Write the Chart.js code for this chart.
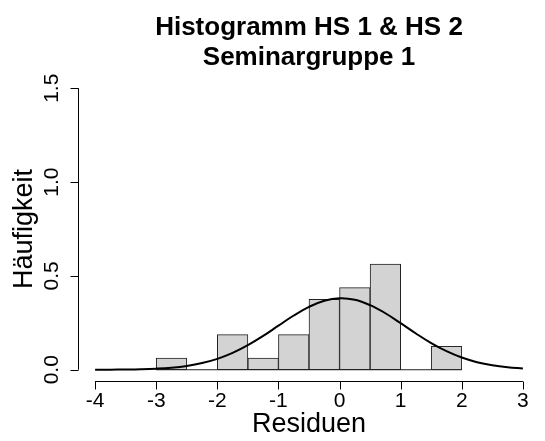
<!DOCTYPE html>
<html>
<head>
<meta charset="utf-8">
<title>Histogramm HS 1 & HS 2</title>
<script src="https://cdn.jsdelivr.net/npm/chart.js@4"></script>
<style>
  html, body { margin: 0; padding: 0; background: #fff; }
  canvas { display: block; }
</style>
</head>
<body>
<canvas id="histChart" width="545" height="441"></canvas>
<script>
// ---- data ----
const breaks = [-3, -2.5, -2, -1.5, -1, -0.5, 0, 0.5, 1, 1.5, 2];
const density = [0.0625, 0, 0.1875, 0.0625, 0.1875, 0.375, 0.4375, 0.5625, 0, 0.125];

// normal density curve, read at steps of 0.25
const curveX = [-4, -3.75, -3.5, -3.25, -3, -2.75, -2.5, -2.25, -2, -1.75, -1.5, -1.25, -1, -0.75,
  -0.5, -0.25, 0, 0.25, 0.5, 0.75, 1, 1.25, 1.5, 1.75, 2, 2.25, 2.5, 2.75, 3];
const curveY = [0.0002, 0.0006, 0.0013, 0.0028, 0.0058, 0.0112, 0.0205, 0.0356, 0.0581, 0.0898,
  0.131, 0.180, 0.235, 0.289, 0.335, 0.368, 0.381, 0.373, 0.344, 0.301, 0.248, 0.193, 0.142,
  0.0988, 0.0649, 0.0402, 0.0236, 0.0130, 0.0068];

const xTicks = [-4, -3, -2, -1, 0, 1, 2, 3];
const yTicks = [0, 0.5, 1, 1.5];
const yTickLabels = ['0.0', '0.5', '1.0', '1.5'];

const titleLines = ['Histogramm HS 1 & HS 2', 'Seminargruppe 1'];
const xTitle = 'Residuen';
const yTitle = 'Häufigkeit';

const FONT = '"Liberation Sans", Arial, Helvetica, sans-serif';

const bars = density.map((d, i) => ({ x: (breaks[i] + breaks[i + 1]) / 2, y: d }));
const curve = curveX.map((x, i) => ({ x: x, y: curveY[i] }));
const baseline = [{ x: breaks[0], y: 0 }, { x: breaks[breaks.length - 1], y: 0 }];

// R-style axes (line only from first to last tick), titles
const baseAxes = {
  id: 'baseAxes',
  afterDraw(chart) {
    const ctx = chart.ctx;
    const xs = chart.scales.x, ys = chart.scales.y;
    const area = chart.chartArea;
    ctx.save();
    ctx.strokeStyle = '#000';
    ctx.fillStyle = '#000';
    ctx.lineWidth = 1;

    // x axis
    const xb = Math.round(area.bottom) + 0.5;
    ctx.beginPath();
    ctx.moveTo(xs.getPixelForValue(xTicks[0]), xb);
    ctx.lineTo(xs.getPixelForValue(xTicks[xTicks.length - 1]), xb);
    xTicks.forEach(t => {
      const px = Math.round(xs.getPixelForValue(t)) + 0.5;
      ctx.moveTo(px, xb);
      ctx.lineTo(px, xb + 8);
    });
    ctx.stroke();
    ctx.font = '21px ' + FONT;
    ctx.textAlign = 'center';
    ctx.textBaseline = 'alphabetic';
    xTicks.forEach(t => ctx.fillText(String(t), xs.getPixelForValue(t), xb + 25));

    // y axis
    const yl = Math.round(area.left) + 0.5;
    ctx.beginPath();
    ctx.moveTo(yl, ys.getPixelForValue(yTicks[0]));
    ctx.lineTo(yl, ys.getPixelForValue(yTicks[yTicks.length - 1]));
    yTicks.forEach(t => {
      const py = Math.round(ys.getPixelForValue(t)) + 0.5;
      ctx.moveTo(yl, py);
      ctx.lineTo(yl - 8, py);
    });
    ctx.stroke();
    yTicks.forEach((t, i) => {
      ctx.save();
      ctx.translate(yl - 21, ys.getPixelForValue(t));
      ctx.rotate(-Math.PI / 2);
      ctx.fillText(yTickLabels[i], 0, 0);
      ctx.restore();
    });

    const cx = (area.left + area.right) / 2;
    const cy = (area.top + area.bottom) / 2;

    // axis titles
    ctx.font = '27px ' + FONT;
    ctx.fillText(xTitle, cx, 432);
    ctx.save();
    ctx.translate(32, cy);
    ctx.rotate(-Math.PI / 2);
    ctx.fillText(yTitle, 0, 0);
    ctx.restore();

    // main title
    ctx.font = 'bold 26px ' + FONT;
    ctx.fillText(titleLines[0], cx, 35);
    ctx.fillText(titleLines[1], cx, 65);
    ctx.restore();
  }
};

new Chart(document.getElementById('histChart'), {
  data: {
    datasets: [
      {
        type: 'line',
        data: curve,
        borderColor: '#000',
        borderWidth: 2,
        pointRadius: 0,
        tension: 0.4,
        fill: false,
        order: 0
      },
      {
        type: 'line',
        data: baseline,
        borderColor: '#222',
        borderWidth: 1,
        pointRadius: 0,
        fill: false,
        order: 2
      },
      {
        type: 'bar',
        data: bars,
        backgroundColor: '#d3d3d3',
        borderColor: '#222',
        borderWidth: 1,
        borderSkipped: false,
        barPercentage: 1,
        categoryPercentage: 1,
        order: 1
      }
    ]
  },
  options: {
    responsive: false,
    animation: false,
    events: [],
    layout: { padding: { left: 78, right: 5, top: 77, bottom: 60 } },
    plugins: {
      legend: { display: false },
      tooltip: { enabled: false },
      title: { display: false }
    },
    scales: {
      x: { type: 'linear', min: -4.28, max: 3.28, offset: false, display: false },
      y: { type: 'linear', min: -0.06, max: 1.56, display: false }
    }
  },
  plugins: [baseAxes]
});
</script>
</body>
</html>
